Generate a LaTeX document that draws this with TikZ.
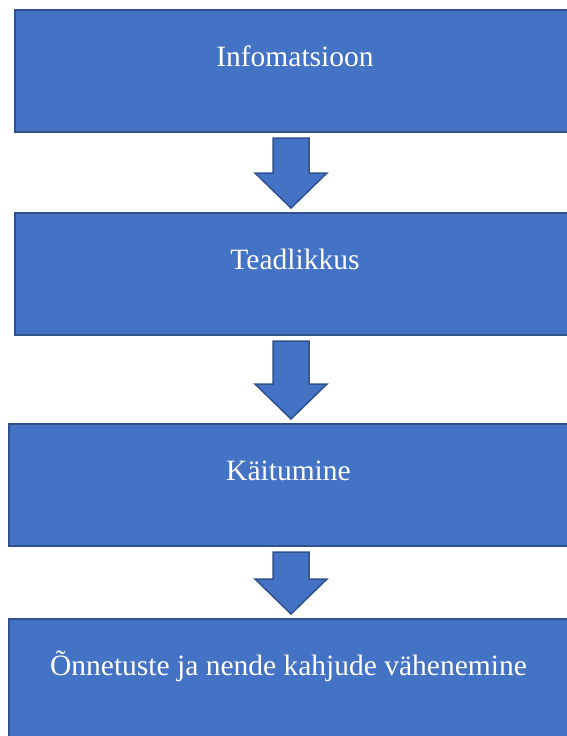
\documentclass[tikz,border=0pt]{standalone}
\usepackage{fontspec}
\setmainfont{Liberation Serif}
\usetikzlibrary{positioning,calc}
\definecolor{boxfill}{HTML}{4472C4}
\definecolor{boxline}{HTML}{2F528F}

\begin{document}
\begin{tikzpicture}[
    x=1pt, y=1pt,
    node distance=80pt,
    box/.style={rectangle, draw=boxline, line width=2pt, fill=boxfill, minimum width=560pt, minimum height=122pt, text=white, font=\fontsize{29.5}{35}\selectfont, text height=20pt, text depth=30pt, inner sep=0pt},
    blockarrow/.style={draw=boxline, line width=1.5pt, fill=boxfill, line join=miter}
]
    \useasboundingbox (0,0) rectangle (566,-736);
    \node[box] (info) at (295,-71) {Infomatsioon};
    \node[box, below=79pt of info] (tead) {Teadlikkus};
    \node[box, below=87pt of tead, xshift=-6.5pt] (kait) {Käitumine};
    \node[box, below=71pt of kait] (onn) {Õnnetuste ja nende kahjude vähenemine};
    \coordinate (axis) at (291,0);

    % block arrows between the boxes
    \foreach \a/\b in {info/tead, tead/kait, kait/onn}
        \draw[blockarrow] let \p1=($(\a.south -| axis)+(0,-5)$), \p2=($(\b.north -| axis)+(0,4)$) in
            (\x1-18pt,\y1) -- (\x1+18pt,\y1) -- (\x1+18pt,\y2+35pt) -- (\x1+36pt,\y2+35pt)
            -- (\x2,\y2) -- (\x1-36pt,\y2+35pt) -- (\x1-18pt,\y2+35pt) -- cycle;
\end{tikzpicture}
\end{document}
